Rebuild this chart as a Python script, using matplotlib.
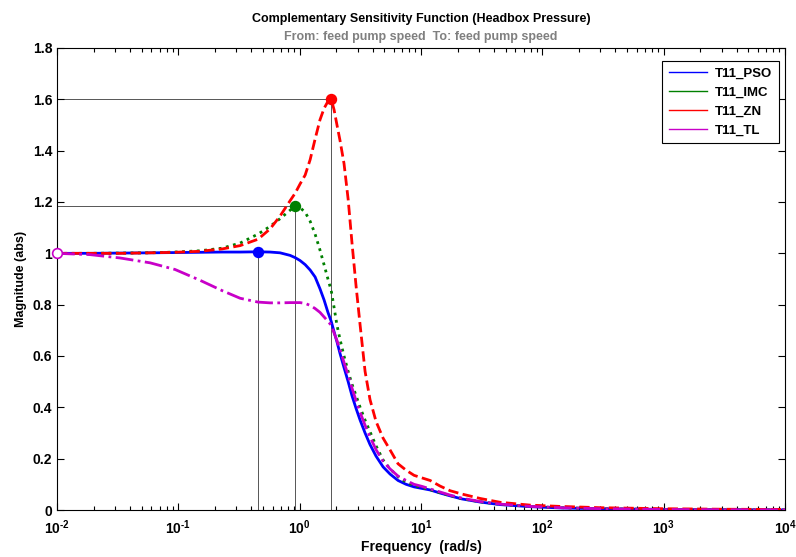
import numpy as np
import matplotlib
matplotlib.use("Agg")
import matplotlib.pyplot as plt
from matplotlib.lines import Line2D
from matplotlib.ticker import FuncFormatter, LogLocator

plt.rcParams['font.family'] = ['Liberation Sans', 'DejaVu Sans']
plt.rcParams['mathtext.fontset'] = 'custom'
plt.rcParams['mathtext.rm'] = 'Liberation Sans:bold'
plt.rcParams['mathtext.bf'] = 'Liberation Sans:bold'
plt.rcParams['mathtext.it'] = 'Liberation Sans:bold'
plt.rcParams['mathtext.default'] = 'bf'
plt.rcParams['axes.unicode_minus'] = False

# ---- data ----
freq = [0.01, 0.0187, 0.033, 0.0585, 0.094, 0.151, 0.229, 0.323, 0.454, 0.57,
        0.689, 0.834, 0.92, 1.007, 1.11, 1.22, 1.34, 1.47, 1.59, 1.71,
        1.82, 1.92, 2.03, 2.15, 2.32, 2.51, 2.70, 2.92, 3.15, 3.46,
        3.80, 4.26, 4.87, 5.56, 6.47, 7.54, 8.77, 10.2, 11.9, 14.4,
        17.4, 21.8, 30.7, 44.9, 79.3, 140, 300, 1010, 3210, 10000]

t_pso = [1.0, 1.0, 1.001, 1.002, 1.003, 1.004, 1.005, 1.005, 1.006, 1.005,
         1.002, 0.992, 0.983, 0.972, 0.956, 0.935, 0.908, 0.862, 0.818, 0.77,
         0.735, 0.695, 0.655, 0.61, 0.555, 0.5, 0.445, 0.395, 0.35, 0.3,
         0.255, 0.21, 0.168, 0.14, 0.115, 0.1, 0.09, 0.084, 0.078, 0.066,
         0.055, 0.043, 0.031, 0.021, 0.013, 0.008, 0.005, 0.002, 0.001, 0.0005]

t_imc = [1.0, 1.0, 1.001, 1.002, 1.005, 1.01, 1.02, 1.04, 1.075, 1.105,
         1.135, 1.168, 1.185, 1.178, 1.16, 1.125, 1.075, 1.013, 0.955, 0.9,
         0.855, 0.79, 0.72, 0.665, 0.6, 0.54, 0.49, 0.445, 0.4, 0.35,
         0.305, 0.25, 0.195, 0.16, 0.13, 0.108, 0.095, 0.087, 0.079, 0.067,
         0.056, 0.044, 0.032, 0.022, 0.014, 0.009, 0.005, 0.002, 0.001, 0.0005]

t_zn = [1.0, 1.0, 1.0, 1.002, 1.004, 1.008, 1.017, 1.03, 1.055, 1.095,
        1.145, 1.205, 1.235, 1.27, 1.305, 1.365, 1.445, 1.52, 1.565, 1.592,
        1.6, 1.56, 1.5, 1.44, 1.35, 1.21, 1.04, 0.87, 0.72, 0.54,
        0.43, 0.345, 0.28, 0.234, 0.18, 0.155, 0.135, 0.125, 0.115, 0.093,
        0.075, 0.062, 0.045, 0.03, 0.019, 0.014, 0.009, 0.005, 0.003, 0.002]

t_tl = [1.0, 0.995, 0.982, 0.963, 0.937, 0.895, 0.855, 0.825, 0.81, 0.807,
        0.807, 0.808, 0.808, 0.808, 0.805, 0.797, 0.785, 0.77, 0.752, 0.735,
        0.72, 0.69, 0.66, 0.625, 0.575, 0.525, 0.475, 0.425, 0.38, 0.33,
        0.285, 0.235, 0.19, 0.16, 0.132, 0.115, 0.1, 0.092, 0.082, 0.07,
        0.058, 0.046, 0.033, 0.023, 0.014, 0.009, 0.005, 0.002, 0.001, 0.0005]

series_names = ['T11_PSO', 'T11_IMC', 'T11_ZN', 'T11_TL']
series_vals = [t_pso, t_imc, t_zn, t_tl]
colors = ['#0000ff', '#008000', '#ff0000', '#c800c8']
styles = ['-', ':', '--', '-.']

title1 = 'Complementary Sensitivity Function (Headbox Pressure)'
title2 = 'From: feed pump speed  To: feed pump speed'

fig = plt.figure(figsize=(7.96, 5.57), dpi=100)
ax = fig.add_axes([57/796, 1-510/557, (785-57)/796, (510-48)/557])

f = np.array(freq)
xmin, xmax = 1e-2, 1e4

# peak reference lines first (behind curves)
for vals, c in zip(series_vals, colors):
    v = np.array(vals)
    i = int(np.argmax(v))
    ax.plot([xmin, f[i]], [v[i], v[i]], color='#555555', lw=0.7, zorder=1)
    ax.plot([f[i], f[i]], [0, v[i]], color='#555555', lw=0.7, zorder=1)

for vals, c, ls in zip(series_vals, colors, styles):
    ax.plot(f, vals, color=c, ls=ls, lw=2, zorder=3)

# peak markers
for k, (vals, c) in enumerate(zip(series_vals, colors)):
    v = np.array(vals)
    i = int(np.argmax(v))
    face = 'white' if k == 3 else c
    ax.plot(f[i], v[i], 'o', ms=7, mfc=face, mec=c, mew=1.2, zorder=5, clip_on=False)


def logfmt(v, p):
    e = int(round(np.log10(v)))
    if e < 0:
        return r'$10^{\text{-}%d}$' % (-e)
    return r'$10^{%d}$' % e


ax.set_xscale('log')
ax.set_xlim(xmin, xmax)
ax.set_ylim(0, 1.8)
ax.set_yticks(np.arange(0, 1.81, 0.2))
ax.yaxis.set_major_formatter(FuncFormatter(lambda v, p: '%g' % round(v, 2)))
ax.xaxis.set_major_locator(LogLocator(base=10, numticks=10))
ax.xaxis.set_minor_locator(LogLocator(base=10, subs=np.arange(2, 10), numticks=20))
ax.xaxis.set_major_formatter(FuncFormatter(logfmt))

ax.tick_params(which='both', direction='in', top=True, right=True, labelsize=10)
ax.tick_params(which='major', length=5, width=0.8)
ax.tick_params(which='minor', length=3, width=0.8)
for lab in ax.get_xticklabels() + ax.get_yticklabels():
    lab.set_fontweight('bold')
ax.tick_params(axis='x', pad=6)

ax.set_xlabel('Frequency  (rad/s)', fontsize=10, fontweight='bold', labelpad=2)
ax.set_ylabel('Magnitude (abs)', fontsize=9, fontweight='bold', labelpad=4)

fig.text((57+785)/2/796, 1-19/557, title1, ha='center', va='center',
         fontsize=9, fontweight='bold', color='black')
fig.text((57+785)/2/796, 1-37/557, title2, ha='center', va='center',
         fontsize=9, fontweight='bold', color='#808080')

handles = [Line2D([0], [0], color=c, lw=1) for c in colors]
leg = ax.legend(handles, series_names, loc='upper right',
                bbox_to_anchor=((779-57)/728, (510-61)/462),
                prop={'weight': 'bold', 'size': 9.5}, fancybox=False,
                framealpha=1, edgecolor='black', borderaxespad=0,
                handlelength=2.9, handletextpad=0.6, labelspacing=0.5,
                borderpad=0.5)
leg.get_frame().set_linewidth(0.8)

for s in ax.spines.values():
    s.set_linewidth(0.8)

fig.savefig('out.png', dpi=100)
